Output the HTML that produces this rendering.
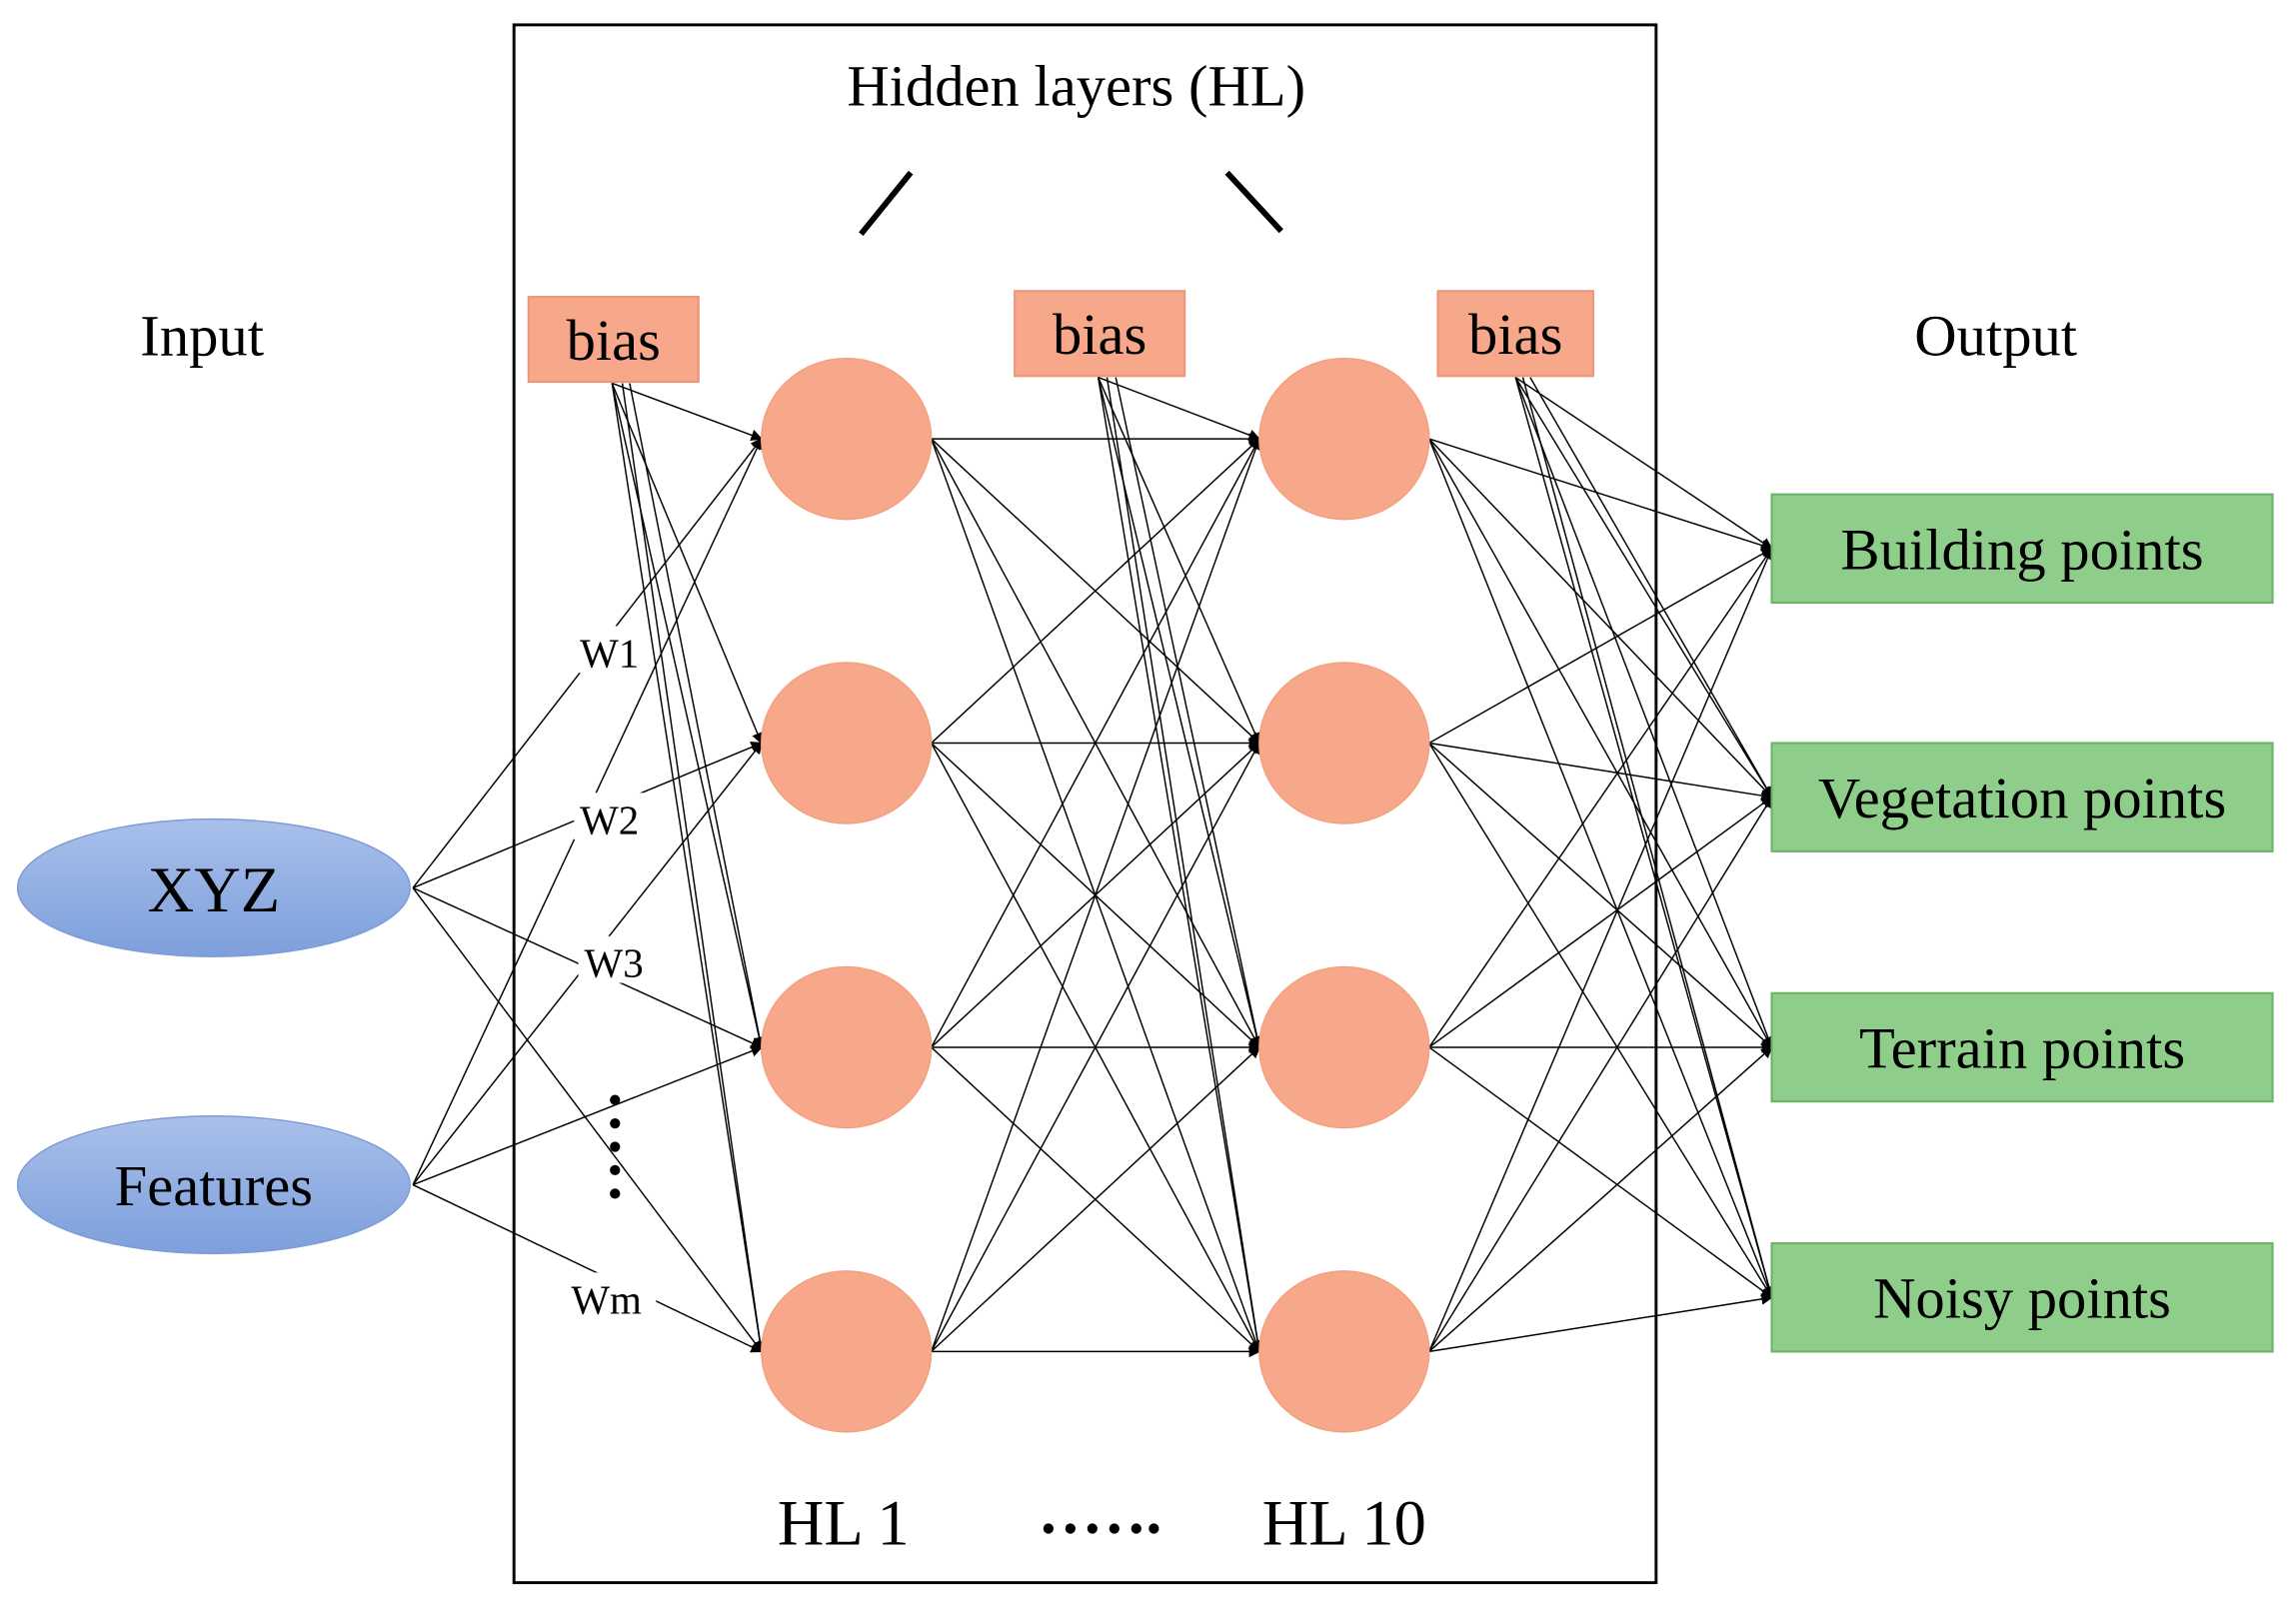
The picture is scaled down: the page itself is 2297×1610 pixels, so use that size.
<!DOCTYPE html>
<html><head><meta charset="utf-8"><style>
html,body{margin:0;padding:0;background:#fff;}
svg{display:block;}
text{font-family:"Liberation Serif",serif;fill:#000;}
</style></head><body>
<svg width="2297" height="1610" viewBox="0 0 1568 1100" preserveAspectRatio="none" xmlns="http://www.w3.org/2000/svg">
<defs>
<marker id="a" markerWidth="8" markerHeight="8" refX="7" refY="4" orient="auto" markerUnits="userSpaceOnUse"><path d="M0,0 L8,4 L0,8 z" fill="#000"/></marker>
<linearGradient id="bl" x1="0" y1="0" x2="0" y2="1"><stop offset="0" stop-color="#a9c0ea"/><stop offset="1" stop-color="#7d9fdc"/></linearGradient>
</defs>
<rect x="351" y="17" width="780" height="1065" fill="none" stroke="#000" stroke-width="2"/>
<text x="735" y="72" font-size="40" text-anchor="middle">Hidden layers (HL)</text>
<line x1="622" y1="118" x2="588" y2="160" stroke="#000" stroke-width="4"/>
<line x1="838" y1="118" x2="875" y2="158" stroke="#000" stroke-width="4"/>
<text x="138" y="243" font-size="40" text-anchor="middle">Input</text>
<text x="1363" y="243" font-size="40" text-anchor="middle">Output</text>
<g stroke="#000" stroke-width="1" fill="none" marker-end="url(#a)">
<!-- bias1 to HL1 -->
<line x1="418" y1="262" x2="520" y2="300"/><line x1="418" y1="262" x2="520" y2="508"/><line x1="418" y1="262" x2="520" y2="716"/><line x1="418" y1="262" x2="520" y2="924"/>
<line x1="430" y1="262" x2="520" y2="716"/><line x1="425" y1="262" x2="520" y2="924"/>
<!-- inputs to HL1 -->
<line x1="282" y1="607" x2="520" y2="300"/><line x1="282" y1="607" x2="520" y2="508"/><line x1="282" y1="607" x2="520" y2="716"/><line x1="282" y1="607" x2="520" y2="924"/>
<line x1="282" y1="810" x2="520" y2="300"/><line x1="282" y1="810" x2="520" y2="508"/><line x1="282" y1="810" x2="520" y2="716"/><line x1="282" y1="810" x2="520" y2="924"/>
<!-- HL1 to HL10 -->
<line x1="636" y1="300" x2="860" y2="300"/><line x1="636" y1="300" x2="860" y2="508"/><line x1="636" y1="300" x2="860" y2="716"/><line x1="636" y1="300" x2="860" y2="924"/>
<line x1="636" y1="508" x2="860" y2="300"/><line x1="636" y1="508" x2="860" y2="508"/><line x1="636" y1="508" x2="860" y2="716"/><line x1="636" y1="508" x2="860" y2="924"/>
<line x1="636" y1="716" x2="860" y2="300"/><line x1="636" y1="716" x2="860" y2="508"/><line x1="636" y1="716" x2="860" y2="716"/><line x1="636" y1="716" x2="860" y2="924"/>
<line x1="636" y1="924" x2="860" y2="300"/><line x1="636" y1="924" x2="860" y2="508"/><line x1="636" y1="924" x2="860" y2="716"/><line x1="636" y1="924" x2="860" y2="924"/>
<!-- bias2 -->
<line x1="750" y1="258" x2="860" y2="300"/><line x1="750" y1="258" x2="860" y2="508"/><line x1="750" y1="258" x2="860" y2="716"/><line x1="750" y1="258" x2="860" y2="924"/>
<line x1="762" y1="258" x2="860" y2="716"/><line x1="756" y1="258" x2="860" y2="924"/>
<!-- HL10 to outputs -->
<line x1="976" y1="300" x2="1210" y2="375"/><line x1="976" y1="300" x2="1210" y2="545"/><line x1="976" y1="300" x2="1210" y2="716"/><line x1="976" y1="300" x2="1210" y2="887"/>
<line x1="976" y1="508" x2="1210" y2="375"/><line x1="976" y1="508" x2="1210" y2="545"/><line x1="976" y1="508" x2="1210" y2="716"/><line x1="976" y1="508" x2="1210" y2="887"/>
<line x1="976" y1="716" x2="1210" y2="375"/><line x1="976" y1="716" x2="1210" y2="545"/><line x1="976" y1="716" x2="1210" y2="716"/><line x1="976" y1="716" x2="1210" y2="887"/>
<line x1="976" y1="924" x2="1210" y2="375"/><line x1="976" y1="924" x2="1210" y2="545"/><line x1="976" y1="924" x2="1210" y2="716"/><line x1="976" y1="924" x2="1210" y2="887"/>
<!-- bias3 -->
<line x1="1035" y1="258" x2="1210" y2="375"/><line x1="1035" y1="258" x2="1210" y2="545"/><line x1="1035" y1="258" x2="1210" y2="716"/><line x1="1035" y1="258" x2="1210" y2="887"/>
<line x1="1045" y1="258" x2="1210" y2="545"/><line x1="1040" y1="258" x2="1210" y2="887"/>
</g>
<!-- weight labels with white backgrounds -->
<g font-size="28">
<rect x="392" y="428" width="50" height="32" fill="#fff"/><text x="396" y="456">W1</text>
<rect x="392" y="542" width="50" height="32" fill="#fff"/><text x="396" y="570">W2</text>
<rect x="395" y="640" width="50" height="32" fill="#fff"/><text x="399" y="668">W3</text>
<rect x="390" y="870" width="58" height="32" fill="#fff"/><text x="390" y="898">Wm</text>
</g>
<g fill="#000"><circle cx="420" cy="752" r="3.5"/><circle cx="420" cy="768" r="3.5"/><circle cx="420" cy="784" r="3.5"/><circle cx="420" cy="800" r="3.5"/><circle cx="420" cy="816" r="3.5"/></g>
<!-- bias boxes -->
<g fill="#f8a88a" stroke="#f0957a" stroke-width="1.5">
<rect x="361" y="203" width="116" height="58"/><rect x="693" y="199" width="116" height="58"/><rect x="982" y="199" width="106" height="58"/>
</g>
<g font-size="40" text-anchor="middle"><text x="419" y="246">bias</text><text x="751" y="242">bias</text><text x="1035" y="242">bias</text></g>
<!-- neurons -->
<g fill="#f8a88a" stroke="#f3a080" stroke-width="1">
<ellipse cx="578" cy="300" rx="58" ry="55"/><ellipse cx="578" cy="508" rx="58" ry="55"/><ellipse cx="578" cy="716" rx="58" ry="55"/><ellipse cx="578" cy="924" rx="58" ry="55"/>
<ellipse cx="918" cy="300" rx="58" ry="55"/><ellipse cx="918" cy="508" rx="58" ry="55"/><ellipse cx="918" cy="716" rx="58" ry="55"/><ellipse cx="918" cy="924" rx="58" ry="55"/>
</g>
<!-- inputs -->
<ellipse cx="146" cy="607" rx="134" ry="47" fill="url(#bl)" stroke="#7d9bd4"/>
<ellipse cx="146" cy="810" rx="134" ry="47" fill="url(#bl)" stroke="#7d9bd4"/>
<text x="146" y="623" font-size="44" text-anchor="middle">XYZ</text>
<text x="146" y="824" font-size="40" text-anchor="middle">Features</text>
<!-- outputs -->
<g fill="#8fce8a" stroke="#6fb46a" stroke-width="1.5">
<rect x="1210" y="338" width="342" height="74"/><rect x="1210" y="508" width="342" height="74"/><rect x="1210" y="679" width="342" height="74"/><rect x="1210" y="850" width="342" height="74"/>
</g>
<g font-size="40" text-anchor="middle">
<text x="1381" y="389">Building points</text><text x="1381" y="559">Vegetation points</text><text x="1381" y="730">Terrain points</text><text x="1381" y="901">Noisy points</text>
</g>
<text x="576" y="1056" font-size="44" text-anchor="middle">HL 1</text>
<text x="918" y="1056" font-size="44" text-anchor="middle">HL 10</text>
<g fill="#000"><circle cx="716" cy="1045" r="3.5"/><circle cx="731" cy="1045" r="3.5"/><circle cx="746" cy="1045" r="3.5"/><circle cx="761" cy="1045" r="3.5"/><circle cx="776" cy="1045" r="3.5"/><circle cx="788" cy="1045" r="3.5"/></g>
</svg>
</body></html>
